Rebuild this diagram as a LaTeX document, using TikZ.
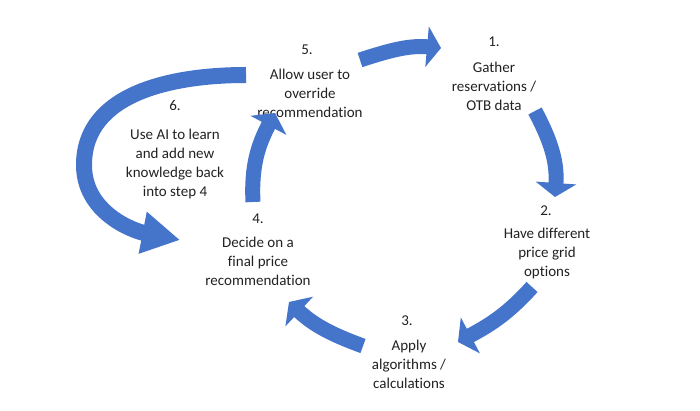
\documentclass[tikz,border=0pt]{standalone}
\usepackage{fontspec}
\setmainfont{Carlito}[Ligatures=CommonOff]
\usetikzlibrary{arrows.meta}
\definecolor{arrowblue}{HTML}{4574CB}
\definecolor{txt}{HTML}{222222}
\begin{document}
\begin{tikzpicture}[x=1pt,y=1pt,
  lbl/.style={font=\fontsize{15}{19}\selectfont, text=txt, align=center, inner sep=0pt},
  carrow/.style={draw=arrowblue, line width=15pt, -{Triangle[width=40pt,length=14pt]}},
  bigarrow/.style={draw=arrowblue, line width=16pt, -{Triangle[width=40pt,length=38pt]}}]
\useasboundingbox[fill=white] (0,0) rectangle (700,-411);

% numbers
\node[lbl] (n1) at (494,-42) {1.};
\node[lbl] (n2) at (546,-211) {2.};
\node[lbl] (n3) at (407,-321) {3.};
\node[lbl] (n4) at (258,-219) {4.};
\node[lbl] (n5) at (307,-50) {5.};
\node[lbl] (n6) at (175,-105) {6.};

% texts
\node[lbl] (t1) at (494,-86) {Gather\\reservations /\\OTB data};
\node[lbl] (t2) at (547,-254) {Have different\\price grid\\options};
\node[lbl] (t3) at (409,-364) {Apply\\algorithms /\\calculations};
\node[lbl] (t4) at (258,-261) {Decide on a\\final price\\recommendation};
\node[lbl] (t5) at (310,-93) {Allow user to\\override\\recommendation};
\node[lbl] (t6) at (175,-164) {Use AI to learn\\and add new\\knowledge back\\into step 4};

% arrow end points
\coordinate (a5s) at (360,-60);  \coordinate (a5e) at (441,-48);
\coordinate (a1s) at (535,-111); \coordinate (a1e) at (555,-197);
\coordinate (a2s) at (532,-287); \coordinate (a2e) at (458,-342);
\coordinate (a3s) at (363,-346); \coordinate (a3e) at (289,-302);
\coordinate (a4s) at (253,-202); \coordinate (a4e) at (275,-113);
\coordinate (a6s) at (246,-75);  \coordinate (a6m) at (84,-165); \coordinate (a6e) at (180,-240);

\draw[carrow] (a5s) to[out=18,in=175] (a5e);
\draw[carrow] (a1s) to[out=-62,in=86] (a1e);
\draw[carrow] (a2s) to[out=228,in=28] (a2e);
\draw[carrow] (a3s) to[out=160,in=-43] (a3e);
\draw[carrow] (a4s) to[out=93,in=-118] (a4e);
\draw[bigarrow] (a6s) to[out=180,in=90] (a6m) to[out=-90,in=169] (a6e);
\end{tikzpicture}
\end{document}
